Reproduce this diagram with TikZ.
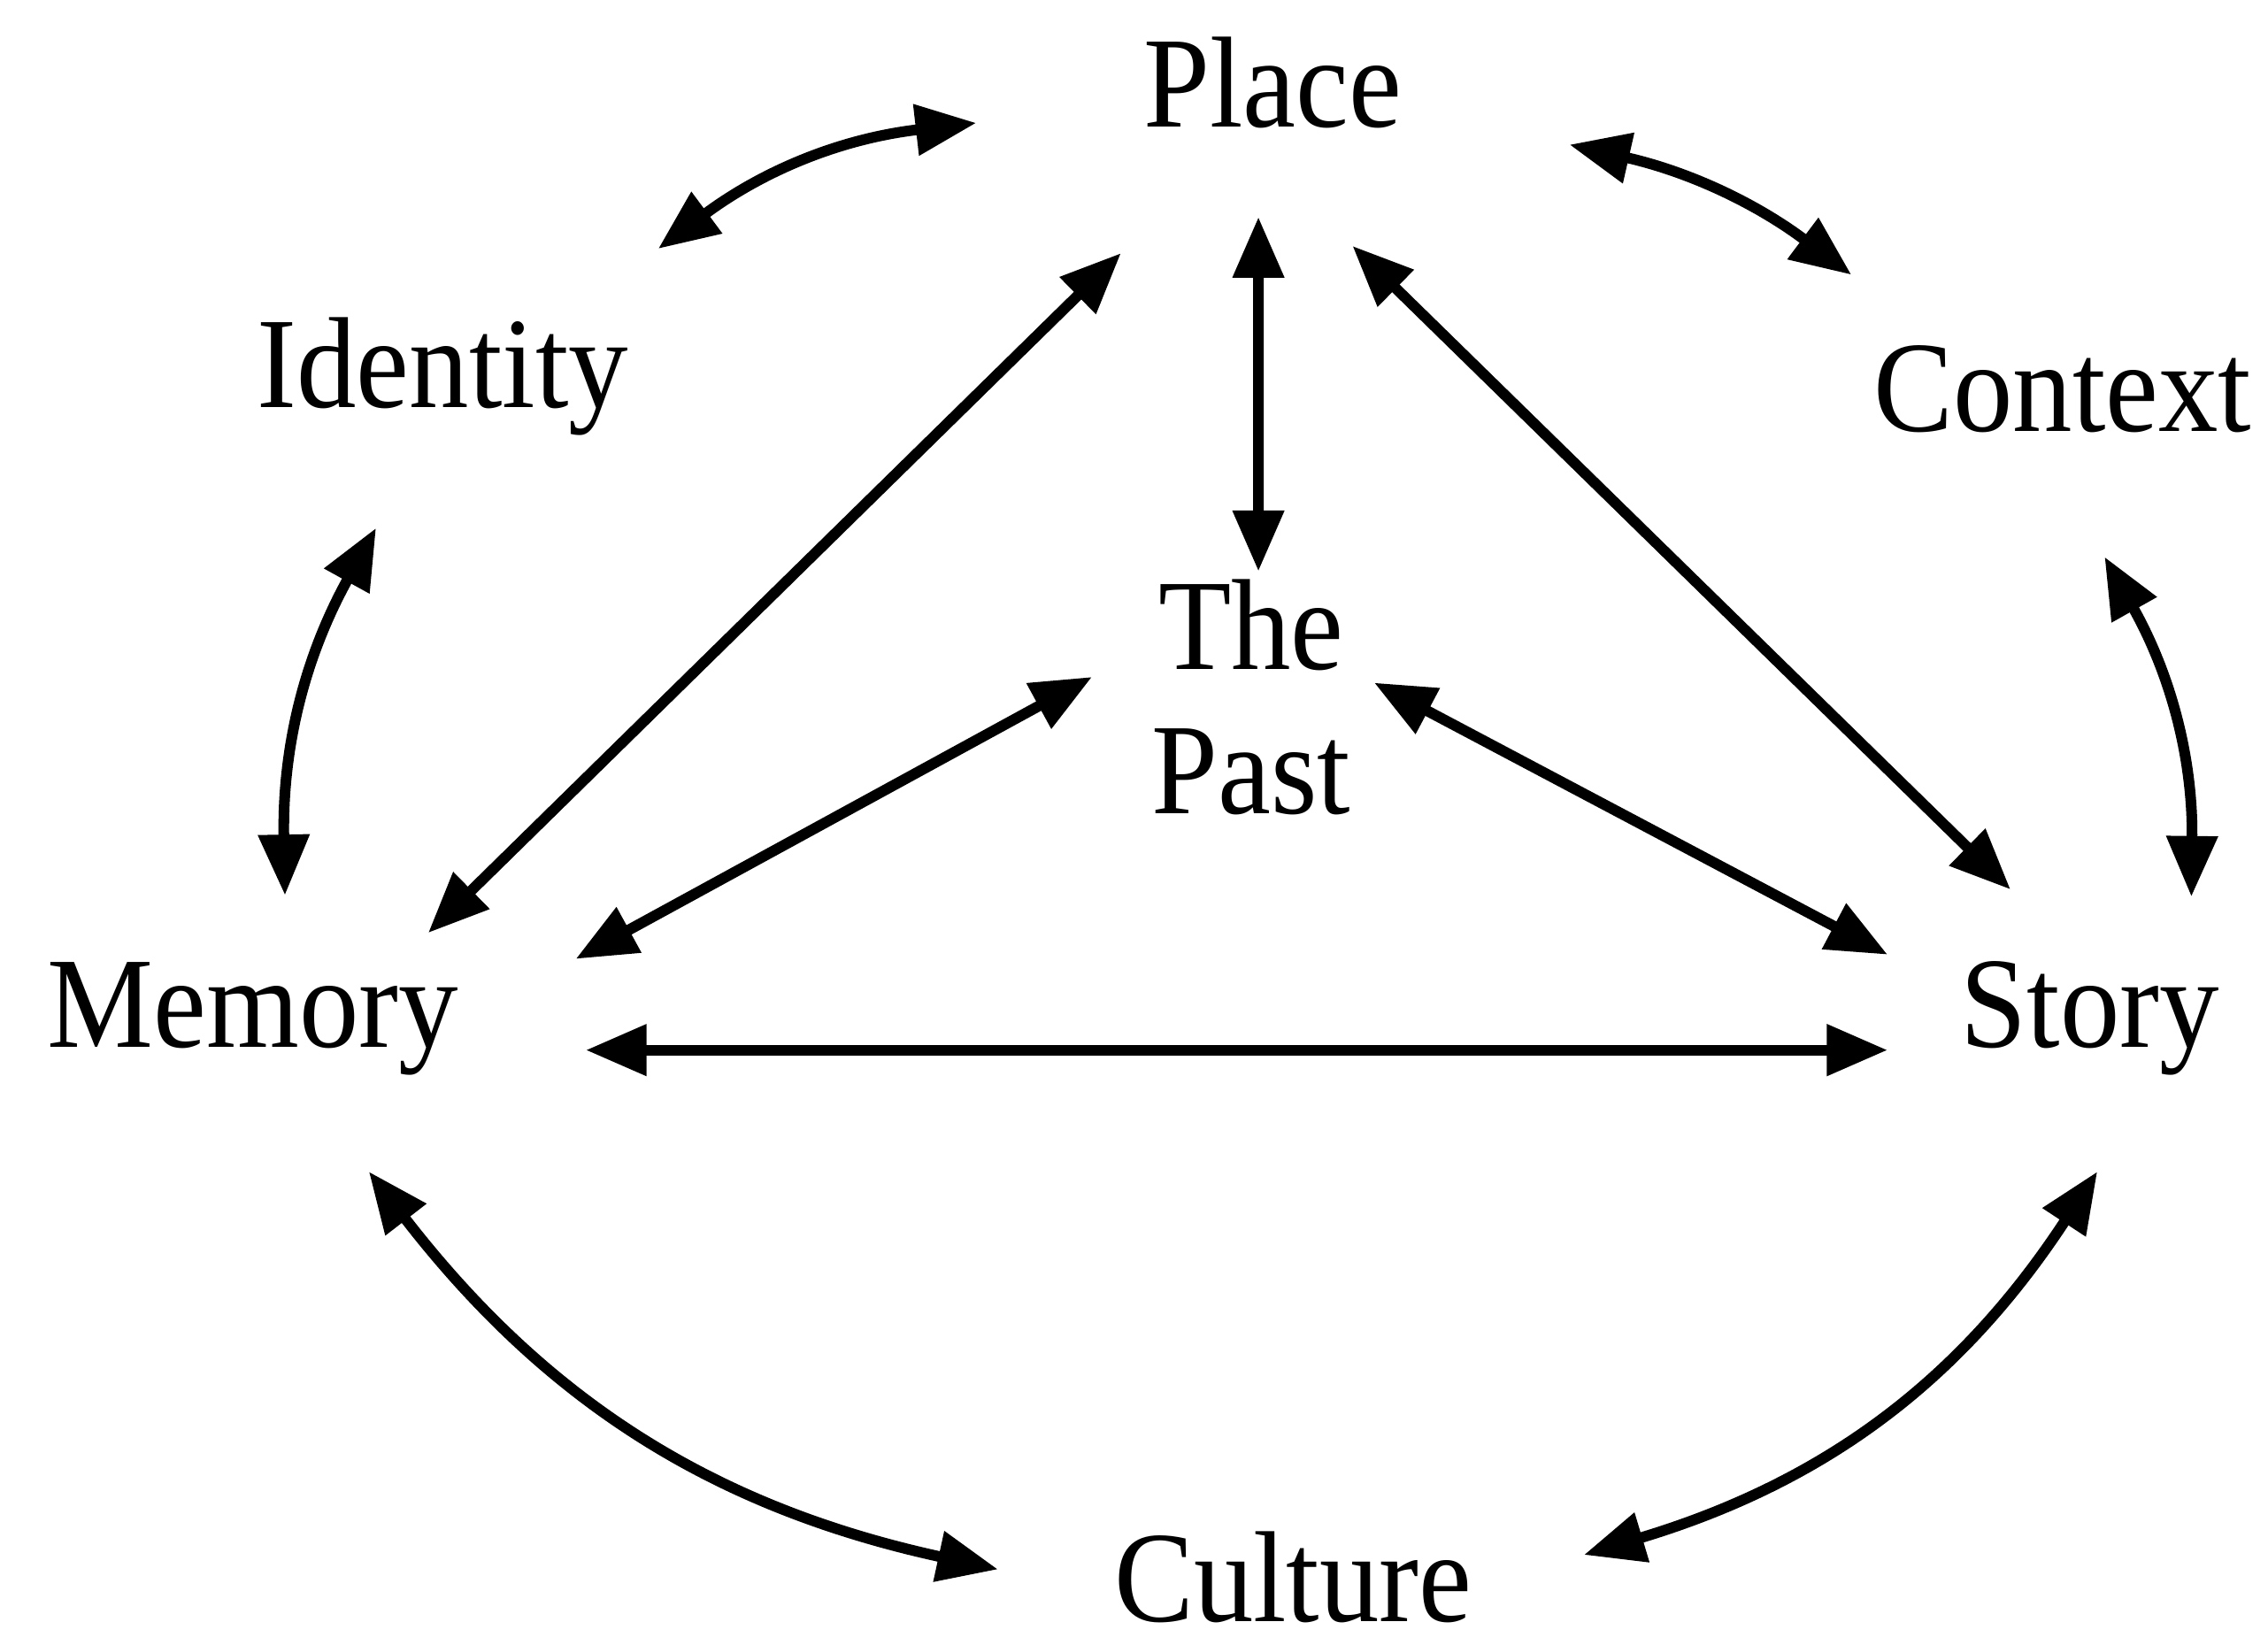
\documentclass[tikz,border=0pt]{standalone}
\usepackage{fontspec}
\setmainfont[FakeStretch=0.92]{Liberation Serif}
\usetikzlibrary{arrows.meta}

\begin{document}
\begin{tikzpicture}[
    every node/.style={font=\fontsize{25.5}{28.45}\selectfont, inner sep=0pt},
    word/.style={anchor=base},
    link/.style={{Triangle[length=0.42cm,width=0.34cm]}-{Triangle[length=0.42cm,width=0.34cm]}, line width=2.1pt}]
    \useasboundingbox (0,0) rectangle (15.68,11.37);

    % Concepts
    \node[word] (place) at (8.80,10.49) {Place};
    \node[word] (identity) at (3.06,8.55) {Identity};
    \node[word] (context) at (14.26,8.39) {Context};
    \node[align=center] (past) at (8.65,6.55) {The\\Past};
    \node[word] (memory) at (1.75,4.13) {Memory};
    \node[word] (story) at (14.45,4.13) {Story};
    \node[word] (culture) at (8.94,0.16) {Culture};

    % Outer ring
    \draw[link] ([shift={(1.49,1.10)}]identity.base) to[bend left=15] ([shift={(-2.05,0.03)}]place.base);
    \draw[link] ([shift={(2.05,-0.12)}]place.base) to[bend left=12] ([shift={(-1.46,1.08)}]context.base);
    \draw[link] ([shift={(-0.46,-0.83)}]identity.base) to[bend right=15] ([shift={(0.22,1.05)}]memory.base);
    \draw[link] ([shift={(0.29,-0.87)}]context.base) to[bend left=15] ([shift={(0.70,1.04)}]story.base);
    \draw[link] ([shift={(0.80,-0.86)}]memory.base) to[bend right=20] ([shift={(-2.04,0.36)}]culture.base);
    \draw[link] ([shift={(0.05,-0.86)}]story.base) to[bend left=20] ([shift={(2.01,0.46)}]culture.base);

    % Inner triangle
    \draw[link] ([shift={(1.21,0.79)}]memory.base) -- ([shift={(-1.05,-0.87)}]place.base);
    \draw[link] ([shift={(-0.10,-0.62)}]place.base) -- ([shift={(0.05,0.87)}]past.center);
    \draw[link] ([shift={(0.55,-0.82)}]place.base) -- ([shift={(-0.55,1.09)}]story.base);
    \draw[link] ([shift={(2.23,0.61)}]memory.base) -- ([shift={(-1.10,0.14)}]past.center);
    \draw[link] ([shift={(0.85,0.10)}]past.center) -- ([shift={(-1.40,0.64)}]story.base);
    \draw[link] ([shift={(2.30,-0.02)}]memory.base) -- ([shift={(-1.40,-0.02)}]story.base);
\end{tikzpicture}
\end{document}
